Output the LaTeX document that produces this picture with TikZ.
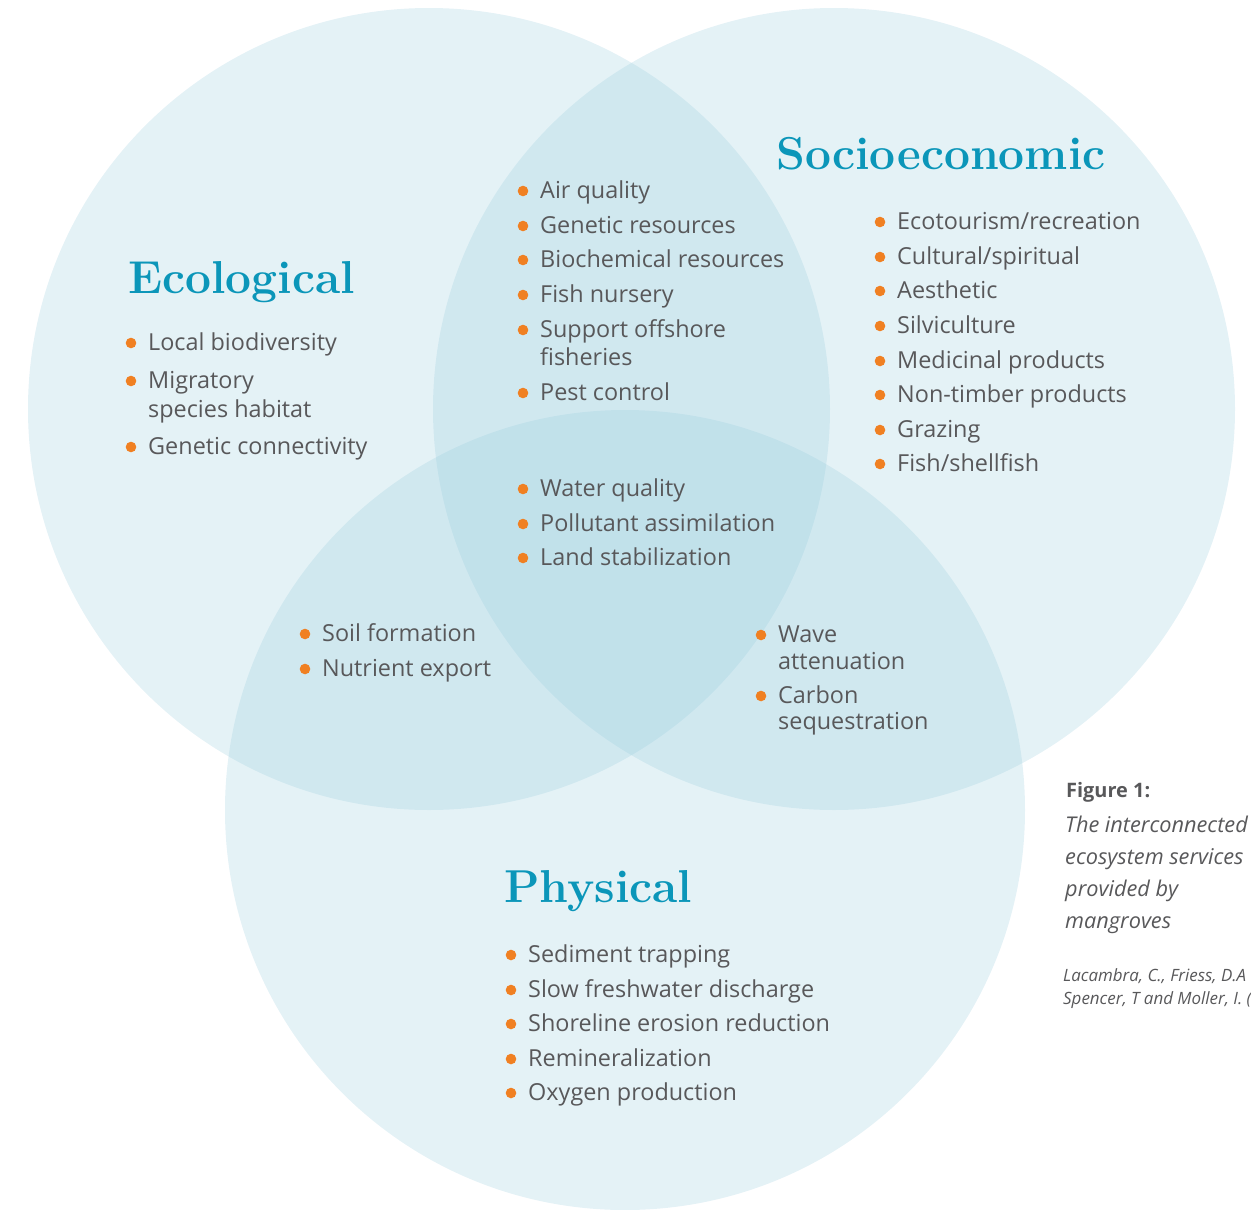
\documentclass[tikz,border=0pt]{standalone}
\usepackage{fontspec}
\newfontfamily\bodyfont{Open Sans}
\usetikzlibrary{calc}
\definecolor{venn}{RGB}{151,204,220}
\definecolor{headc}{RGB}{11,150,185}
\definecolor{textc}{RGB}{88,88,90}
\definecolor{dotc}{RGB}{240,128,34}
% one service entry: name, x, baseline y, text (with its orange bullet)
\newcommand\svc[4]{%
  \node[svctext] (#1) at (#2,#3) {#4};
  \fill[dotc] ($(#1.base west)+(-17,-7)$) circle (5.3);}
% continuation line of a wrapped entry
\newcommand\svcmore[4]{\node[svctext] (#1) at (#2,#3) {#4};}
\begin{document}
\begin{tikzpicture}[x=1bp,y=-1bp,
  region/.style={fill=venn,fill opacity=0.26},
  heading/.style={anchor=base west,inner sep=0,text=headc,
    font=\fontsize{46.3}{50}\selectfont\bfseries},
  svctext/.style={anchor=base west,inner sep=0,text=textc,
    font=\bodyfont\fontsize{23.5}{27}\selectfont},
  captitle/.style={anchor=base west,inner sep=0,text=textc,
    font=\bodyfont\bfseries\fontsize{20}{24}\selectfont},
  capline/.style={anchor=base west,inner sep=0,text=textc,
    font=\bodyfont\itshape\fontsize{21.8}{25}\selectfont},
  capcite/.style={anchor=base west,inner sep=0,text=textc,
    font=\bodyfont\itshape\fontsize{17}{19}\selectfont}]
\useasboundingbox (0,0) rectangle (1251,1210);
\clip (0,0) rectangle (1251,1210);

% the three overlapping domains
\fill[region] (429,409) circle (401);
\fill[region] (834,409) circle (401);
\fill[region] (625,810) circle (400);

% headings
\node[heading] (ecoh) at (128,293) {Ecological};
\node[heading] (socioh) at (776,169) {Socioeconomic};
\node[heading] (physh) at (504,902) {Physical};

% ecological only
\svc{eco1}{148}{350}{Local biodiversity}
\svc{eco2}{148}{388}{Migratory}
\svcmore{eco2b}{148}{417}{species habitat}
\svc{eco3}{148}{454}{Genetic connectivity}

% ecological and socioeconomic
\svc{es1}{540}{198}{Air quality}
\svc{es2}{540}{233}{Genetic resources}
\svc{es3}{540}{267}{Biochemical resources}
\svc{es4}{540}{302}{Fish nursery}
\svc{es5}{540}{337}{Support offshore}
\svcmore{es5b}{540}{365}{fisheries}
\svc{es6}{540}{400}{Pest control}

% socioeconomic only
\svc{so1}{897}{229}{Ecotourism/recreation}
\svc{so2}{897}{264}{Cultural/spiritual}
\svc{so3}{897}{298}{Aesthetic}
\svc{so4}{897}{333}{Silviculture}
\svc{so5}{897}{368}{Medicinal products}
\svc{so6}{897}{402}{Non-timber products}
\svc{so7}{897}{437}{Grazing}
\svc{so8}{897}{471}{Fish/shellfish}

% all three
\svc{all1}{540}{496}{Water quality}
\svc{all2}{540}{531}{Pollutant assimilation}
\svc{all3}{540}{565}{Land stabilization}

% ecological and physical
\svc{ep1}{322}{641}{Soil formation}
\svc{ep2}{322}{676}{Nutrient export}

% socioeconomic and physical
\svc{sp1}{778}{642}{Wave}
\svcmore{sp1b}{778}{669}{attenuation}
\svc{sp2}{778}{703}{Carbon}
\svcmore{sp2b}{778}{729}{sequestration}

% physical only
\svc{ph1}{528}{962}{Sediment trapping}
\svc{ph2}{528}{997}{Slow freshwater discharge}
\svc{ph3}{528}{1031}{Shoreline erosion reduction}
\svc{ph4}{528}{1066}{Remineralization}
\svc{ph5}{528}{1100}{Oxygen production}

% caption
\node[captitle] (figlabel) at (1066,797) {Figure 1:};
\node[capline] (cap1) at (1065,832) {The interconnected};
\node[capline] (cap2) at (1065,864) {ecosystem services};
\node[capline] (cap3) at (1065,896) {provided by};
\node[capline] (cap4) at (1065,928) {mangroves};
\node[capcite] (cite1) at (1063,981) {Lacambra, C., Friess, D.A};
\node[capcite] (cite2) at (1063,1004) {Spencer, T and Moller, I. (};
\end{tikzpicture}
\end{document}
